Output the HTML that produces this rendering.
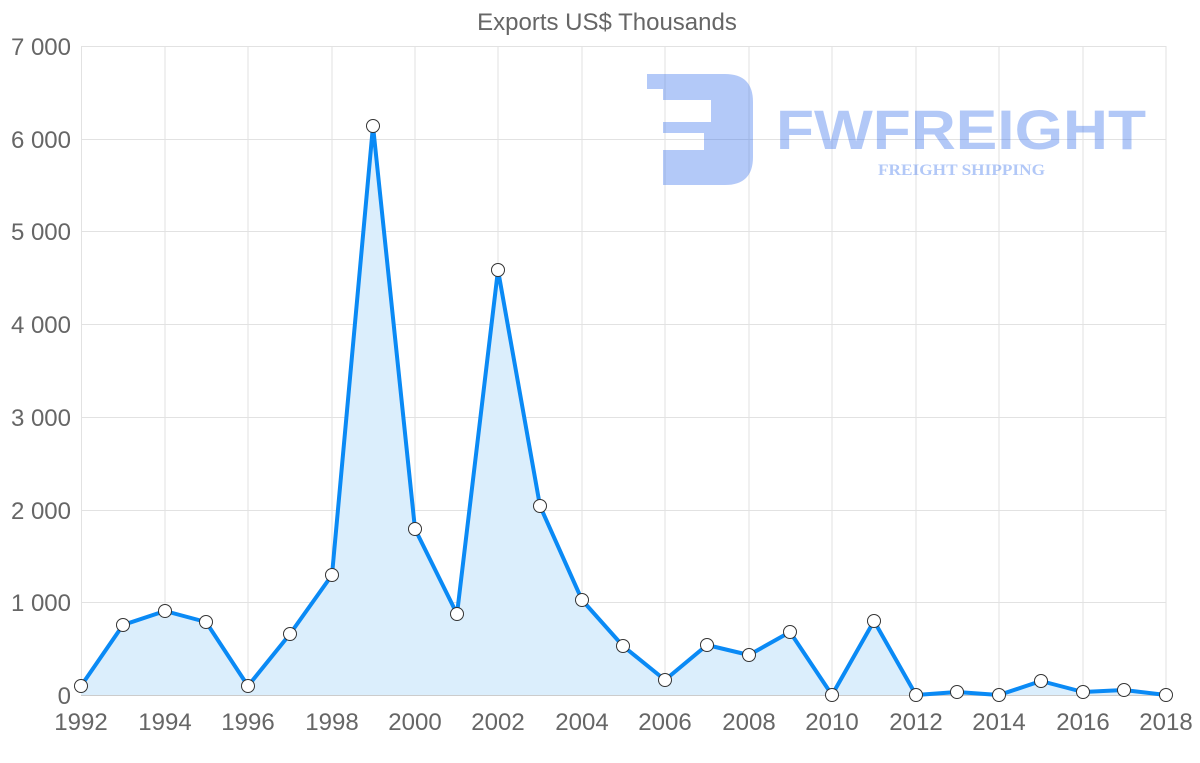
<!DOCTYPE html>
<html><head><meta charset="utf-8"><style>body{margin:0;background:#fff}svg{display:block}</style></head><body>
<svg width="1200" height="763" xmlns="http://www.w3.org/2000/svg" font-family="Liberation Sans, sans-serif">
<text x="607" y="30" text-anchor="middle" font-size="24" fill="#666">Exports US$ Thousands</text>
<g stroke="#e2e2e2" stroke-width="1">
<line x1="81" y1="46.5" x2="1166" y2="46.5"/><line x1="81" y1="139.5" x2="1166" y2="139.5"/><line x1="81" y1="231.5" x2="1166" y2="231.5"/><line x1="81" y1="324.5" x2="1166" y2="324.5"/><line x1="81" y1="417.5" x2="1166" y2="417.5"/><line x1="81" y1="510.5" x2="1166" y2="510.5"/><line x1="81" y1="602.5" x2="1166" y2="602.5"/>
<line x1="81.5" y1="46" x2="81.5" y2="695"/><line x1="165" y1="46" x2="165" y2="695"/><line x1="248" y1="46" x2="248" y2="695"/><line x1="332" y1="46" x2="332" y2="695"/><line x1="415" y1="46" x2="415" y2="695"/><line x1="498" y1="46" x2="498" y2="695"/><line x1="582" y1="46" x2="582" y2="695"/><line x1="665" y1="46" x2="665" y2="695"/><line x1="749" y1="46" x2="749" y2="695"/><line x1="832" y1="46" x2="832" y2="695"/><line x1="916" y1="46" x2="916" y2="695"/><line x1="999" y1="46" x2="999" y2="695"/><line x1="1083" y1="46" x2="1083" y2="695"/><line x1="1166" y1="46" x2="1166" y2="695"/>
</g>
<line x1="81" y1="695.5" x2="1166" y2="695.5" stroke="#ccc"/>
<g fill="#666" font-size="24" text-anchor="end">
<text x="71" y="55">7 000</text><text x="71" y="148">6 000</text><text x="71" y="240">5 000</text><text x="71" y="333">4 000</text><text x="71" y="426">3 000</text><text x="71" y="519">2 000</text><text x="71" y="611">1 000</text><text x="71" y="704">0</text>
</g>
<g fill="#666" font-size="24" text-anchor="middle">
<text x="81" y="730">1992</text><text x="165" y="730">1994</text><text x="248" y="730">1996</text><text x="332" y="730">1998</text><text x="415" y="730">2000</text><text x="498" y="730">2002</text><text x="582" y="730">2004</text><text x="665" y="730">2006</text><text x="749" y="730">2008</text><text x="832" y="730">2010</text><text x="916" y="730">2012</text><text x="999" y="730">2014</text><text x="1083" y="730">2016</text><text x="1166" y="730">2018</text>
</g>
<g fill="#2563eb" opacity="0.35">
<path d="M647 74 H725 Q753 74 753 102 V157 Q753 185 725 185 H663 V150 H704 V133 H663 V122 H711 V100 H663 V89 H647 Z"/>
<text x="776" y="149" font-size="56" font-weight="bold" textLength="370" lengthAdjust="spacingAndGlyphs">FWFREIGHT</text>
<text x="878" y="175" font-size="16" font-weight="bold" font-family="Liberation Serif, serif" textLength="167" lengthAdjust="spacingAndGlyphs">FREIGHT SHIPPING</text>
</g>
<path d="M81,686 L123,625 L165,611 L206,622 L248,686 L290,634 L332,575 L373,126 L415,529 L457,614 L498,270 L540,506 L582,600 L623,646 L665,680 L707,645 L749,655 L790,632 L832,695 L874,621 L916,695 L957,692 L999,695 L1041,681 L1083,692 L1124,690 L1166,695 L1166,695 L81,695 Z" fill="#dbeefc"/>
<polyline points="81,686 123,625 165,611 206,622 248,686 290,634 332,575 373,126 415,529 457,614 498,270 540,506 582,600 623,646 665,680 707,645 749,655 790,632 832,695 874,621 916,695 957,692 999,695 1041,681 1083,692 1124,690 1166,695" fill="none" stroke="#0a8af5" stroke-width="4" stroke-linejoin="round"/>
<g fill="#fff" stroke="#333" stroke-width="1">
<circle cx="81" cy="686" r="6.5"/><circle cx="123" cy="625" r="6.5"/><circle cx="165" cy="611" r="6.5"/><circle cx="206" cy="622" r="6.5"/><circle cx="248" cy="686" r="6.5"/><circle cx="290" cy="634" r="6.5"/><circle cx="332" cy="575" r="6.5"/><circle cx="373" cy="126" r="6.5"/><circle cx="415" cy="529" r="6.5"/><circle cx="457" cy="614" r="6.5"/><circle cx="498" cy="270" r="6.5"/><circle cx="540" cy="506" r="6.5"/><circle cx="582" cy="600" r="6.5"/><circle cx="623" cy="646" r="6.5"/><circle cx="665" cy="680" r="6.5"/><circle cx="707" cy="645" r="6.5"/><circle cx="749" cy="655" r="6.5"/><circle cx="790" cy="632" r="6.5"/><circle cx="832" cy="695" r="6.5"/><circle cx="874" cy="621" r="6.5"/><circle cx="916" cy="695" r="6.5"/><circle cx="957" cy="692" r="6.5"/><circle cx="999" cy="695" r="6.5"/><circle cx="1041" cy="681" r="6.5"/><circle cx="1083" cy="692" r="6.5"/><circle cx="1124" cy="690" r="6.5"/><circle cx="1166" cy="695" r="6.5"/>
</g>
</svg>
</body></html>
